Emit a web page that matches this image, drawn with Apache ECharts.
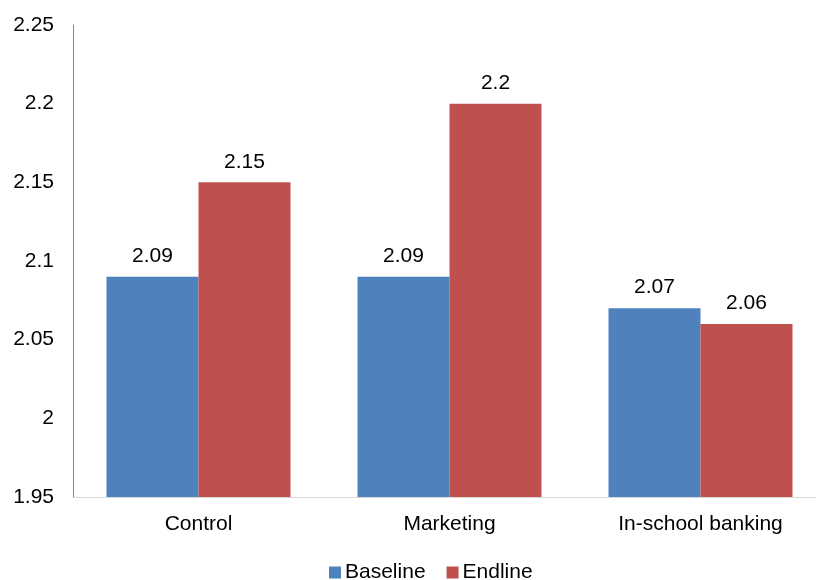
<!DOCTYPE html>
<html><head><meta charset="utf-8">
<script src="https://cdn.jsdelivr.net/npm/echarts@6/dist/echarts.min.js"></script>
<style>html,body{margin:0;padding:0;background:#fff}#c{width:816px;height:580px}</style>
</head><body><div id="c"></div>
<script>
const categories = ['Control', 'Marketing', 'In-school banking'];
const baseline = [2.09, 2.09, 2.07];
const endline = [2.15, 2.2, 2.06];
const seriesNames = ['Baseline', 'Endline'];

const chart = echarts.init(document.getElementById('c'));
const font = 'Liberation Sans, Arial, sans-serif';
const lbl = {show: true, position: 'top', distance: 10, color: '#000', fontSize: 21, fontFamily: font};
chart.setOption({
  animation: false,
  textStyle: {fontFamily: font},
  grid: {left: 73, width: 753, top: 25, bottom: 83, outerBoundsMode: 'none', containLabel: false},
  legend: {
    data: seriesNames, top: 562, left: 329, padding: 0, itemWidth: 12, itemHeight: 12, itemGap: 21,
    icon: 'rect', textStyle: {fontSize: 21, color: '#000', fontFamily: font, padding: [0,0,0,-1]}
  },
  xAxis: {
    type: 'category', data: categories,
    axisLine: {lineStyle: {color: '#d9d9d9', width: 1}},
    axisTick: {show: false},
    axisLabel: {fontSize: 21, color: '#000', margin: 17, fontFamily: font}
  },
  yAxis: {
    type: 'value', min: 1.95, max: 2.25, interval: 0.05,
    axisLine: {show: true, lineStyle: {color: '#868686', width: 1}},
    axisTick: {show: false},
    splitLine: {show: false},
    axisLabel: {fontSize: 21, color: '#000', margin: 19, fontFamily: font,
      formatter: v => String(Math.round(v * 100) / 100)}
  },
  series: [
    {name: 'Baseline', type: 'bar', data: baseline, barGap: '0%', barCategoryGap: '26.7%',
     itemStyle: {color: '#4F81BD'}, label: lbl},
    {name: 'Endline', type: 'bar', data: endline, barGap: '0%', barCategoryGap: '26.7%',
     itemStyle: {color: '#C0504D'}, label: lbl}
  ]
});
</script></body></html>
